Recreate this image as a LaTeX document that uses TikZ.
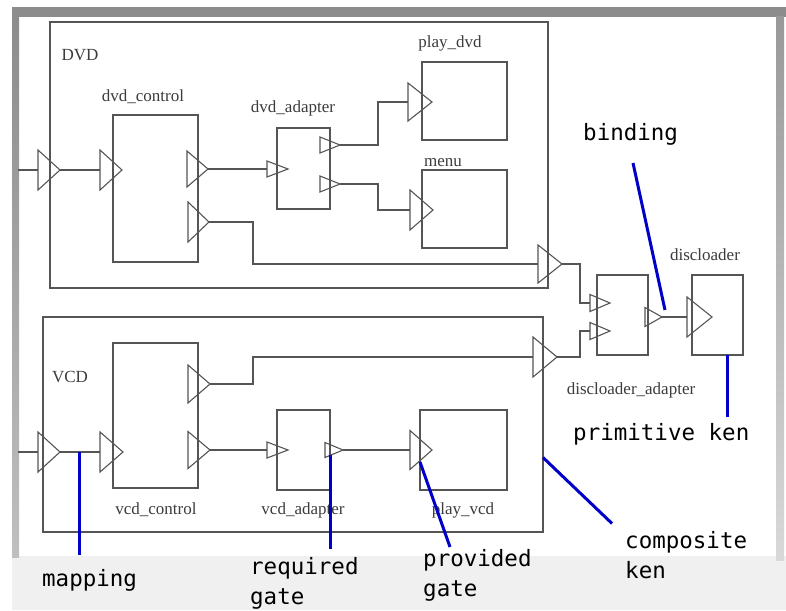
\documentclass[tikz,border=0pt]{standalone}
\usepackage{fontspec}
\usetikzlibrary{shapes.geometric}
\newfontfamily\notefont{DejaVu Sans Mono}
\newfontfamily\kenfont{Liberation Serif}
\definecolor{kgray}{RGB}{85,85,85}
\definecolor{ktext}{RGB}{60,60,60}
\definecolor{nblue}{RGB}{0,0,200}
\definecolor{barg}{RGB}{140,140,140}
\tikzset{
  kenbox/.style={draw=kgray, line width=1.3pt, inner sep=0, outer sep=0},
  gate/.style 2 args={draw=kgray, line width=1.1pt, isosceles triangle, isosceles triangle stretches,
    minimum height=#1, minimum width=#2, inner sep=0, outer sep=0, anchor=west},
  wire/.style={kgray, line width=1.3pt},
  kenlabel/.style={text=ktext, font=\kenfont\fontsize{17}{17}\selectfont, inner sep=0},
  note/.style={nblue, line width=3pt},
  notetext/.style={font=\notefont\fontsize{22.5}{30}\selectfont, inner sep=0, align=left, anchor=base west}
}

\begin{document}
\begin{tikzpicture}[x=1pt,y=-1pt]
\useasboundingbox (0,0) rectangle (786,610);
% window frame
\fill[white] (0,0) rectangle (786,610);
\fill[black!6] (12,556) rectangle (786,610);
\fill[barg] (12,7) rectangle (786,17);
\shade[top color=barg, bottom color=black!25] (12,17) rectangle (19,557);
\shade[top color=black!40, bottom color=black!15] (776,17) rectangle (784,560);

% composite kens
\node[kenbox, minimum width=498, minimum height=266] (dvd) at (299,155) {};
\node[kenbox, minimum width=500, minimum height=215] (vcd) at (293,424.5) {};
\node[kenlabel] (dvdname) at (80,55) {DVD};
\node[kenlabel] (vcdname) at (70,377) {VCD};

% primitive kens
\node[kenbox, minimum width=85, minimum height=147] (dvdctl) at (155.5,188.5) {};
\node[kenbox, minimum width=53, minimum height=81] (dvdadp) at (303.5,168.5) {};
\node[kenbox, minimum width=85, minimum height=78] (playdvd) at (464.5,101) {};
\node[kenbox, minimum width=85, minimum height=78] (menu) at (464.5,209) {};
\node[kenbox, minimum width=85, minimum height=145] (vcdctl) at (155.5,415.5) {};
\node[kenbox, minimum width=53, minimum height=80] (vcdadp) at (303.5,450) {};
\node[kenbox, minimum width=87, minimum height=80] (playvcd) at (463.5,450) {};
\node[kenbox, minimum width=51, minimum height=80] (discadp) at (622.5,315) {};
\node[kenbox, minimum width=51, minimum height=80] (disc) at (717.5,315) {};

\node[kenlabel] (dvdctlname) at (143,97) {dvd\_control};
\node[kenlabel] (dvdadpname) at (293,108) {dvd\_adapter};
\node[kenlabel] (playdvdname) at (450,43) {play\_dvd};
\node[kenlabel] (menuname) at (443,163) {menu};
\node[kenlabel] (vcdctlname) at (156,510) {vcd\_control};
\node[kenlabel] (vcdadpname) at (303,510) {vcd\_adapter};
\node[kenlabel] (playvcdname) at (463,510) {play\_vcd};
\node[kenlabel] (discname) at (705,255) {discloader};
\node[kenlabel] (discadpname) at (631,390) {discloader\_adapter};

% gates
\node[gate={22}{40}] (gdvdin) at (38,170) {};
\node[gate={22}{40}] (gdvdctlin) at (100,170) {};
\node[gate={21}{36}] (gdvdctlout1) at (187,169) {};
\node[gate={21}{40}] (gdvdctlout2) at (188,222) {};
\node[gate={21}{16}] (gdvdadpin) at (267,169) {};
\node[gate={20}{16}] (gdvdadpout1) at (320,145) {};
\node[gate={20}{16}] (gdvdadpout2) at (320,184) {};
\node[gate={24}{38}] (gplaydvdin) at (408,102) {};
\node[gate={23}{40}] (gmenuin) at (410,210) {};
\node[gate={24}{38}] (gdvdout) at (538,264) {};

\node[gate={22}{40}] (gvcdin) at (38,452) {};
\node[gate={23}{40}] (gvcdctlin) at (100,452) {};
\node[gate={22}{38}] (gvcdctlout1) at (188,384) {};
\node[gate={22}{37}] (gvcdctlout2) at (188,450) {};
\node[gate={21}{16}] (gvcdadpin) at (267,450) {};
\node[gate={18}{15}] (gvcdadpout) at (325,450) {};
\node[gate={22}{39}] (gplayvcdin) at (410,450) {};
\node[gate={24}{40}] (gvcdout) at (533,357) {};

\node[gate={20}{17}] (gdiscadpin1) at (590,303) {};
\node[gate={20}{17}] (gdiscadpin2) at (590,331) {};
\node[gate={17}{19}] (gdiscadpout) at (645,317) {};
\node[gate={25}{40}] (gdiscin) at (687,317) {};

% bindings and mappings
\coordinate (dvdsrc) at (18,170);
\coordinate (vcdsrc) at (18,452);
\draw[wire] (dvdsrc) -- (gdvdin.west);
\draw[wire] (gdvdin.apex) -- (gdvdctlin.west);
\draw[wire] (gdvdctlout1.apex) -- (gdvdadpin.west);
\draw[wire] (gdvdadpout1.apex) -- ++(38,0) |- (gplaydvdin.west);
\draw[wire] (gdvdadpout2.apex) -- ++(38,0) |- (gmenuin.west);
\draw[wire] (gdvdctlout2.apex) -- ++(44,0) |- (gdvdout.west);
\draw[wire] (gdvdout.apex) -- ++(18,0) |- (gdiscadpin1.west);
\draw[wire] (vcdsrc) -- (gvcdin.west);
\draw[wire] (gvcdin.apex) -- (gvcdctlin.west);
\draw[wire] (gvcdctlout1.apex) -- ++(43,0) |- (gvcdout.west);
\draw[wire] (gvcdctlout2.apex) -- (gvcdadpin.west);
\draw[wire] (gvcdadpout.apex) -- (gplayvcdin.west);
\draw[wire] (gvcdout.apex) -- ++(23,0) |- (gdiscadpin2.west);
\draw[wire] (gdiscadpout.apex) -- (gdiscin.west);

% annotations
\node[notetext] (bindtext) at (583,140) {binding};
\node[notetext] (primtext) at (573,440) {primitive ken};
\node[notetext] (maptext) at (42,586) {mapping};
\node[notetext] (reqtext) at (250,604) {required\\gate};
\node[notetext] (provtext) at (423,596) {provided\\gate};
\node[notetext] (comptext) at (625,578) {composite\\ken};

\coordinate (bindtop) at (633,163);
\coordinate (mapat) at (79,452);
\coordinate (provat) at (420,462);
\draw[note] (bindtop) -- ([xshift=3pt,yshift=7pt]gdiscadpout.apex);
\draw[note] ([xshift=10pt]disc.south) -- ++(0,62);
\draw[note] (mapat) -- ++(0,103);
\draw[note] (gvcdadpout.south) -- ++(0,94);
\draw[note] (provat) -- ++(30,85);
\draw[note] ([yshift=-33pt]vcd.east) -- ++(69,66);
\end{tikzpicture}
\end{document}
